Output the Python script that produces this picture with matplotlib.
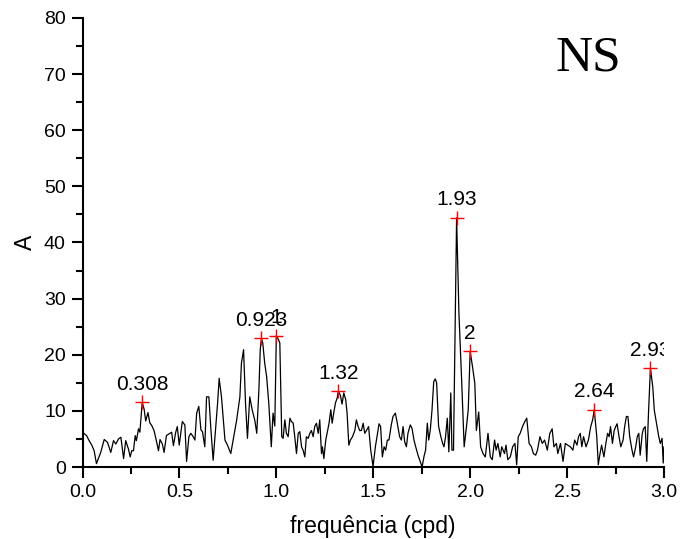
# Amplitude spectrum (NS component) with labelled peaks.
import matplotlib
matplotlib.use("Agg")
import matplotlib.pyplot as plt
from matplotlib.ticker import MultipleLocator, FormatStrFormatter

plt.rcParams['font.family'] = ['Liberation Sans', 'DejaVu Sans']

# Spectrum: frequency (cpd) and amplitude
freq = [0.000, 0.021, 0.034, 0.048, 0.060, 0.072, 0.082, 0.094, 0.112, 0.129,
        0.146, 0.160, 0.172, 0.186, 0.198, 0.206, 0.212, 0.223, 0.237, 0.246,
        0.254, 0.263, 0.272, 0.278, 0.289, 0.296, 0.308, 0.318, 0.326, 0.338,
        0.347, 0.357, 0.369, 0.381, 0.392, 0.400, 0.412, 0.421, 0.433, 0.447,
        0.460, 0.469, 0.481, 0.489, 0.499, 0.515, 0.528, 0.537, 0.549, 0.559,
        0.571, 0.580, 0.589, 0.600, 0.611, 0.619, 0.631, 0.640, 0.652, 0.662,
        0.674, 0.686, 0.697, 0.705, 0.717, 0.735, 0.748, 0.765, 0.783, 0.795,
        0.812, 0.820, 0.831, 0.841, 0.851, 0.863, 0.876, 0.889, 0.899, 0.910,
        0.917, 0.923, 0.930, 0.940, 0.950, 0.961, 0.974, 0.983, 0.992, 1.000,
        1.011, 1.018, 1.028, 1.035, 1.044, 1.052, 1.061, 1.070, 1.078, 1.087,
        1.095, 1.104, 1.113, 1.121, 1.130, 1.138, 1.147, 1.155, 1.164, 1.173,
        1.181, 1.190, 1.198, 1.207, 1.216, 1.224, 1.233, 1.238, 1.245, 1.255,
        1.262, 1.272, 1.281, 1.288, 1.296, 1.305, 1.314, 1.320, 1.331, 1.339,
        1.348, 1.358, 1.365, 1.374, 1.382, 1.393, 1.405, 1.413, 1.422, 1.430,
        1.439, 1.448, 1.456, 1.465, 1.476, 1.487, 1.499, 1.511, 1.521, 1.530,
        1.538, 1.547, 1.556, 1.564, 1.573, 1.581, 1.593, 1.602, 1.614, 1.624,
        1.636, 1.645, 1.654, 1.662, 1.671, 1.679, 1.691, 1.700, 1.710, 1.719,
        1.731, 1.740, 1.752, 1.762, 1.770, 1.779, 1.786, 1.794, 1.803, 1.812,
        1.820, 1.827, 1.837, 1.848, 1.858, 1.865, 1.873, 1.882, 1.890, 1.900,
        1.906, 1.914, 1.930, 1.942, 1.956, 1.969, 1.981, 1.990, 2.000, 2.012,
        2.024, 2.032, 2.044, 2.054, 2.066, 2.078, 2.092, 2.104, 2.114, 2.126,
        2.134, 2.143, 2.155, 2.163, 2.177, 2.185, 2.194, 2.207, 2.219, 2.231,
        2.240, 2.248, 2.258, 2.270, 2.282, 2.292, 2.304, 2.316, 2.326, 2.338,
        2.347, 2.360, 2.372, 2.384, 2.398, 2.411, 2.423, 2.432, 2.445, 2.452,
        2.466, 2.479, 2.491, 2.503, 2.517, 2.530, 2.539, 2.551, 2.559, 2.568,
        2.576, 2.585, 2.598, 2.610, 2.622, 2.632, 2.640, 2.653, 2.661, 2.670,
        2.678, 2.690, 2.700, 2.709, 2.717, 2.724, 2.734, 2.743, 2.751, 2.758,
        2.768, 2.777, 2.789, 2.797, 2.806, 2.814, 2.823, 2.835, 2.843, 2.854,
        2.862, 2.870, 2.877, 2.888, 2.894, 2.903, 2.911, 2.920, 2.930, 2.942,
        2.950, 2.962, 2.973, 2.981, 2.990, 2.996, 3.000]
amp = [6.2, 5.6, 4.7, 3.9, 2.9, 0.6, 1.5, 2.6, 4.9, 4.4,
       2.6, 4.7, 4.1, 5.0, 5.3, 3.2, 1.5, 4.7, 3.2, 1.8,
       2.9, 2.9, 5.6, 4.7, 6.8, 6.2, 11.5, 10.3, 8.2, 9.7,
       7.9, 7.4, 6.5, 4.7, 2.9, 4.9, 4.1, 2.6, 5.6, 5.9,
       6.2, 3.8, 6.2, 7.2, 3.9, 8.1, 7.5, 1.0, 5.4, 6.0,
       5.4, 4.8, 9.6, 10.8, 6.6, 6.3, 3.6, 12.5, 12.5, 6.9,
       1.2, 6.5, 11.4, 15.8, 12.5, 4.8, 3.9, 2.4, 6.0, 8.3,
       12.5, 18.5, 20.9, 11.4, 5.1, 12.5, 10.1, 8.3, 6.0, 13.7,
       20.9, 22.9, 22.1, 18.5, 16.1, 11.4, 3.6, 9.6, 7.3, 23.4,
       22.7, 22.1, 5.4, 5.1, 8.4, 6.0, 5.4, 8.7, 8.1, 7.8,
       5.4, 2.4, 6.0, 6.3, 3.6, 3.0, 1.8, 5.4, 5.1, 6.0,
       6.5, 5.4, 7.2, 7.8, 6.0, 8.4, 2.4, 3.6, 1.5, 4.8,
       6.0, 7.8, 10.2, 7.8, 9.6, 11.4, 12.3, 13.5, 12.7, 11.2,
       13.2, 12.0, 9.6, 3.9, 4.8, 5.4, 6.5, 8.4, 7.2, 6.5,
       6.5, 7.8, 6.0, 6.5, 7.2, 3.0, 0.1, 3.6, 5.7, 7.7,
       7.2, 1.8, 3.6, 3.0, 4.8, 4.8, 7.5, 9.0, 9.6, 7.8,
       5.4, 4.8, 7.2, 4.5, 3.6, 6.0, 7.5, 6.9, 4.8, 3.6,
       2.1, 1.2, 0.0, 1.9, 3.0, 7.8, 4.8, 6.5, 10.1, 15.2,
       15.7, 15.0, 7.3, 5.5, 4.2, 3.6, 5.4, 8.7, 2.7, 13.2,
       3.0, 3.0, 44.4, 27.4, 15.5, 3.6, 7.2, 10.2, 20.6, 17.9,
       14.9, 6.5, 9.8, 3.6, 2.4, 1.8, 6.0, 1.8, 1.3, 4.8,
       3.0, 4.2, 1.8, 3.6, 2.4, 3.9, 1.3, 1.8, 3.6, 4.2,
       0.4, 5.4, 6.0, 7.2, 8.1, 8.7, 4.2, 3.6, 2.4, 2.1,
       3.0, 5.4, 4.2, 4.8, 3.0, 6.0, 6.8, 3.6, 4.2, 2.4,
       4.2, 1.0, 4.2, 3.9, 3.6, 3.0, 4.8, 3.9, 5.4, 6.0,
       3.6, 5.4, 3.6, 4.8, 7.2, 8.4, 10.2, 5.5, 0.4, 2.4,
       3.9, 1.8, 4.2, 6.0, 5.4, 7.2, 4.2, 6.5, 7.2, 7.7,
       5.4, 3.6, 4.8, 7.2, 9.0, 9.0, 5.4, 3.0, 1.8, 3.6,
       5.4, 6.0, 2.1, 6.0, 6.8, 7.2, 1.0, 9.6, 17.6, 14.3,
       10.1, 7.7, 5.4, 4.2, 5.1, 0.7, 3.6]

# Picked peaks
peak_freq = [0.308, 0.923, 1.0, 1.32, 1.93, 2.0, 2.64, 2.93]
peak_amp = [11.5, 22.9, 23.4, 13.5, 44.4, 20.6, 10.2, 17.6]
peak_text = ["0.308", "0.923", "1", "1.32", "1.93", "2", "2.64", "2.93"]

fig = plt.figure(figsize=(6.91, 5.39), dpi=100)
ax = fig.add_axes([82.5 / 691, 72 / 539, 581.5 / 691, 449 / 539])

ax.plot(freq, amp, color="black", linewidth=0.9)
ax.plot(peak_freq, peak_amp, "r+", markersize=10, markeredgewidth=1, zorder=3)

# Peak labels, clipped by the frame like in the original
for f, a, t in zip(peak_freq, peak_amp, peak_text):
    ax.annotate(t, (f, a), xytext=(0, 9), textcoords="offset points",
                ha="center", va="baseline", fontsize=15, clip_on=True)

ax.set_xlim(0, 3.0)
ax.set_ylim(0, 80)
ax.xaxis.set_major_locator(MultipleLocator(0.5))
ax.xaxis.set_minor_locator(MultipleLocator(0.25))
ax.xaxis.set_major_formatter(FormatStrFormatter("%.1f"))
ax.yaxis.set_major_locator(MultipleLocator(10))
ax.yaxis.set_minor_locator(MultipleLocator(5))

ax.spines["top"].set_visible(False)
ax.spines["right"].set_visible(False)
ax.spines["left"].set_linewidth(1.5)
ax.spines["bottom"].set_linewidth(1.5)
ax.tick_params(which="major", direction="out", length=8, width=1.5, labelsize=14, pad=4)
ax.tick_params(which="minor", direction="out", length=5, width=1.5)

ax.set_xlabel("frequência (cpd)", fontsize=16.5, labelpad=10)
ax.set_ylabel("A", fontsize=16.5, labelpad=5)

fig.text(588 / 691, 1 - 58 / 539, "NS", ha="center", va="center",
         family="Liberation Serif", fontsize=37)

fig.savefig("out.png", dpi=100)
